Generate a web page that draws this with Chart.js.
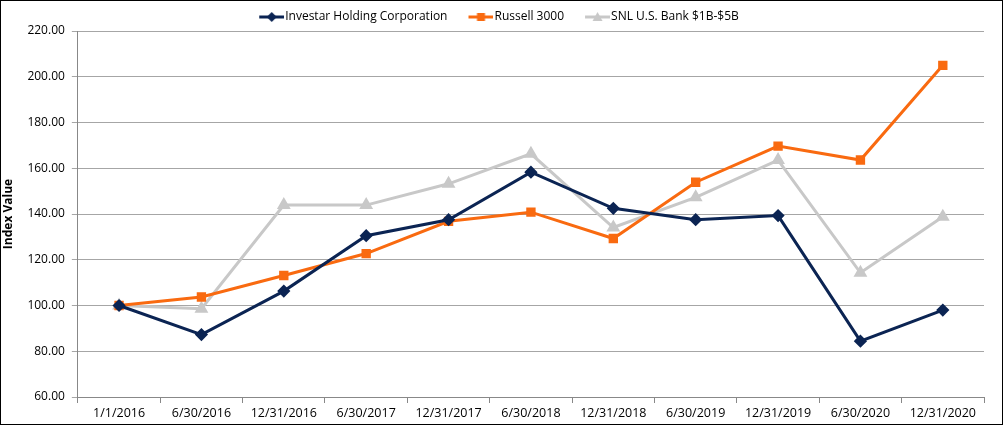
<!DOCTYPE html>
<html>
<head>
<meta charset="utf-8">
<script src="https://cdn.jsdelivr.net/npm/chart.js@4"></script>
<style>
body { margin: 0; background: #fff; }
#box { position: absolute; left: 0; top: 0; width: 1001px; height: 423px; border: 1px solid #000; }
</style>
</head>
<body>
<div id="box"><canvas id="myChart"></canvas></div>
<script>
var dates = ["1/1/2016", "6/30/2016", "12/31/2016", "6/30/2017", "12/31/2017", "6/30/2018", "12/31/2018", "6/30/2019", "12/31/2019", "6/30/2020", "12/31/2020"];
var investar = [100.00, 87.3, 106.3, 130.5, 137.5, 158.3, 142.5, 137.5, 139.3, 84.4, 98.0];
var russell = [100.00, 103.7, 113.1, 122.7, 136.8, 140.8, 129.3, 153.9, 169.7, 163.6, 205.0];
var snl = [100.00, 98.6, 143.9, 143.9, 153.2, 166.3, 134.1, 147.3, 163.6, 114.3, 138.8];

var yMin = 60, yMax = 220, yStep = 20;

Chart.defaults.font.family = "'Open Sans', sans-serif";
Chart.defaults.font.size = 12;
Chart.defaults.color = "#000";

// legend icon: short line with the marker on it, like excel.
// canvas is 10px wider than the legend box, icon sits at its right end
// so it nearly touches the text; blank left part = gap between items
var boxW = 33, iconW = 25;
function legendIcon(color, shape) {
    var c = document.createElement('canvas');
    c.width = boxW + 10; c.height = 12;
    var g = c.getContext('2d');
    var x0 = c.width - iconW, cx = x0 + iconW / 2;
    g.strokeStyle = color;
    g.lineWidth = 3;
    g.beginPath(); g.moveTo(x0, 6); g.lineTo(x0 + iconW, 6); g.stroke();
    g.fillStyle = color;
    g.beginPath();
    if (shape == 'diamond') {
        g.moveTo(cx, 1); g.lineTo(cx + 5, 6); g.lineTo(cx, 11); g.lineTo(cx - 5, 6);
    } else if (shape == 'square') {
        g.rect(cx - 4, 2, 8, 8);
    } else {
        g.moveTo(cx, 1); g.lineTo(cx + 5, 10); g.lineTo(cx - 5, 10);
    }
    g.closePath(); g.fill();
    return c;
}

// legend a bit shorter so the plot starts higher
var legendTrim = {
    id: 'legendTrim',
    beforeInit: function (chart) {
        var fit = chart.legend.fit;
        chart.legend.fit = function () {
            fit.call(this);
            this.height -= 2;
        };
    }
};

var ctx = document.getElementById("myChart").getContext('2d');

var myChart = new Chart(ctx, {
    type: 'line',
    data: {
        labels: dates,
        datasets: [
            {
                label: 'Investar Holding Corporation',
                data: investar,
                borderColor: '#0b2453',
                backgroundColor: '#0b2453',
                borderWidth: 3,
                pointStyle: 'rectRot',
                pointRadius: 4.5,
                tension: 0
            },
            {
                label: 'Russell 3000',
                data: russell,
                borderColor: '#f96a10',
                backgroundColor: '#f96a10',
                borderWidth: 3,
                pointStyle: 'rect',
                pointRadius: 4.5,
                tension: 0
            },
            {
                label: 'SNL U.S. Bank $1B-$5B',
                data: snl,
                borderColor: '#c8c8c8',
                backgroundColor: '#c8c8c8',
                borderWidth: 3,
                pointStyle: 'triangle',
                pointRadius: 5,
                tension: 0
            }
        ]
    },
    options: {
        responsive: true,
        maintainAspectRatio: false,
        animation: false,
        layout: {
            padding: { left: 0, right: 18, top: 2, bottom: 0 }
        },
        plugins: {
            legend: {
                labels: {
                    usePointStyle: true,
                    pointStyleWidth: boxW,
                    padding: 8,
                    color: "#000",
                    font: { size: 12 },
                    generateLabels: function (chart) {
                        var shapes = ['diamond', 'square', 'triangle'];
                        return chart.data.datasets.map(function (ds, i) {
                            return {
                                text: ds.label,
                                pointStyle: legendIcon(ds.borderColor, shapes[i]),
                                fillStyle: ds.borderColor,
                                strokeStyle: ds.borderColor,
                                lineWidth: 0,
                                fontColor: '#000',
                                datasetIndex: i
                            };
                        });
                    }
                }
            },
            tooltip: { enabled: false }
        },
        scales: {
            x: {
                offset: true,
                grid: {
                    offset: true,
                    drawOnChartArea: false,
                    tickLength: 6,
                    color: '#888'
                },
                border: { color: '#888' },
                ticks: {
                    color: "#000",
                    font: { size: 12.5 },
                    maxRotation: 0,
                    padding: 3
                }
            },
            y: {
                min: yMin,
                max: yMax,
                title: {
                    display: true,
                    text: 'Index Value',
                    font: { weight: 'bold', size: 12 },
                    padding: { top: 0, bottom: 5 }
                },
                grid: {
                    color: '#a6a6a6',
                    tickLength: 6
                },
                border: { color: '#888' },
                ticks: {
                    stepSize: yStep,
                    color: "#000",
                    font: { size: 12 },
                    padding: 7,
                    callback: function (v) { return v.toFixed(2); }
                }
            }
        }
    },
    plugins: [legendTrim]
});
</script>
</body>
</html>
